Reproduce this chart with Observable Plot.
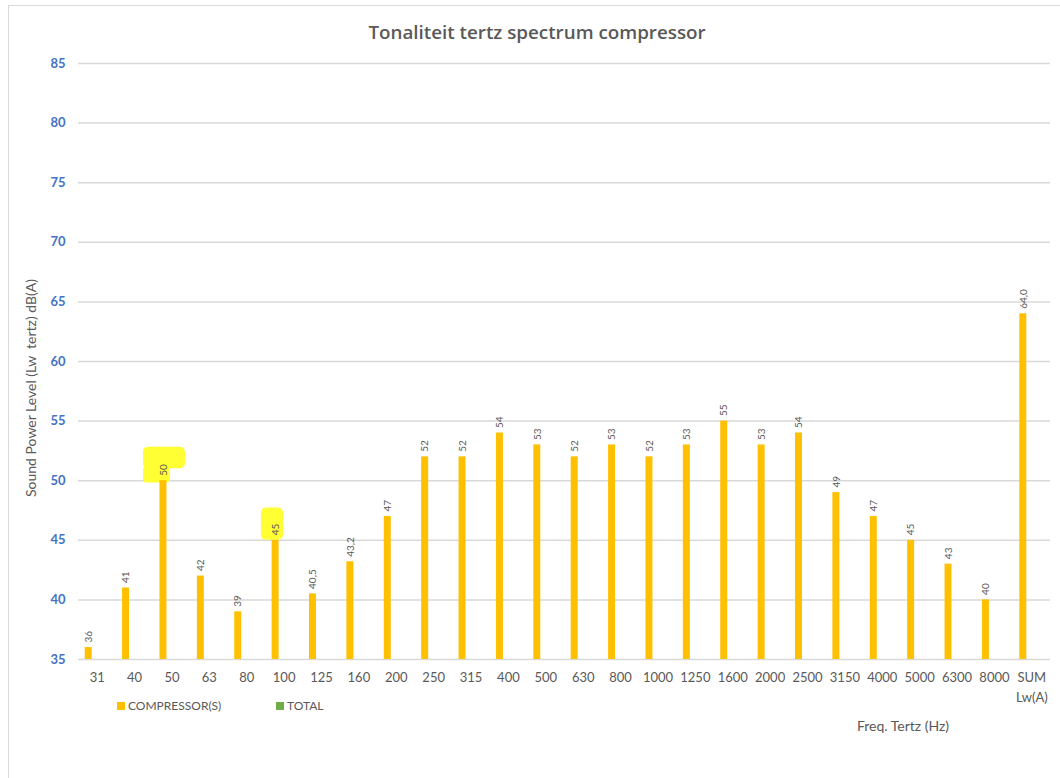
<!DOCTYPE html>
<html>
<head>
<meta charset="utf-8">
<script src="https://cdn.jsdelivr.net/npm/d3@7"></script>
<script src="https://cdn.jsdelivr.net/npm/@observablehq/plot@0.6"></script>
<style>
  html, body { margin: 0; padding: 0; background: #fff; }
  #wrap { position: relative; width: 1060px; height: 778px; font-family: Lato, "Open Sans", sans-serif; color: #595959; overflow: hidden; }
  #wrap svg { position: absolute; left: 0; top: 0; }
  .abs { position: absolute; white-space: nowrap; }
  #border { position: absolute; left: 8px; top: 5px; right: -2px; bottom: -2px; border-top: 1.5px solid #d9d9d9; border-left: 1.5px solid #d9d9d9; }
  #title { left: 0; width: 1074px; top: 19px; text-align: center; font-family: "Open Sans", sans-serif; font-size: 18.8px; font-weight: 600; color: #595959; }
  #ylabel { left: 30px; top: 388px; transform: translate(-50%, -50%) rotate(-90deg); font-size: 14px; }
  #xlabel { left: 903px; top: 725px; transform: translate(-50%, -50%); font-size: 14px; }
  .leg { top: 698px; font-size: 12px; display: flex; align-items: center; }
  .sw { width: 8px; height: 8px; margin-right: 3px; display: inline-block; }
</style>
</head>
<body>
<div id="wrap">
  <div id="border"></div>
  <div id="chart"></div>
  <div class="abs" id="title">Tonaliteit tertz spectrum compressor</div>
  <div class="abs" id="ylabel">Sound Power Level (Lw&nbsp;&nbsp;tertz) dB(A)</div>
  <div class="abs" id="xlabel">Freq. Tertz (Hz)</div>
  <div class="abs leg" style="left:117px"><span class="sw" style="background:#FFC000"></span>COMPRESSOR(S)</div>
  <div class="abs leg" style="left:276px"><span class="sw" style="background:#70AD47"></span>TOTAL</div>
</div>
<script>
// ---- data ----
const freqs = ["31","40","50","63","80","100","125","160","200","250","315","400","500","630","800","1000","1250","1600","2000","2500","3150","4000","5000","6300","8000","SUM Lw(A)"];
const compressor = [36,41,50,42,39,45,40.5,43.2,47,52,52,54,53,52,53,52,53,55,53,54,49,47,45,43,40,64.0];
const valueLabels = ["36","41","50","42","39","45","40,5","43,2","47","52","52","54","53","52","53","52","53","55","53","54","49","47","45","43","40","64,0"];
const yTicks = [35,40,45,50,55,60,65,70,75,80,85];
const yBase = 35;
// yellow highlight marks (category, low value, high value)
const hlTopFreq = ["50"];  const hlTopLow = [51.0];  const hlTopHigh = [52.8];
const hlLowFreq = ["50"];  const hlLowLow = [49.8];  const hlLowHigh = [51.2];
const hl2Freq = ["100"];   const hl2Low = [45.0];    const hl2High = [47.7];

const data = freqs.map((f, i) => ({freq: f, value: compressor[i], label: valueLabels[i]}));
const hlA = hlTopFreq.map((f, i) => ({freq: f, lo: hlTopLow[i], hi: hlTopHigh[i]}));
const hlB = hlLowFreq.map((f, i) => ({freq: f, lo: hlLowLow[i], hi: hlLowHigh[i]}));
const hlC = hl2Freq.map((f, i) => ({freq: f, lo: hl2Low[i], hi: hl2High[i]}));

const chart = Plot.plot({
  width: 1060,
  height: 778,
  marginTop: 63,
  marginBottom: 119,
  marginLeft: 78,
  marginRight: 10,
  style: {fontFamily: "Lato, 'Open Sans', sans-serif", background: "transparent"},
  x: {type: "band", domain: freqs, padding: 0, round: false},
  y: {domain: [35, 85]},
  marks: [
    Plot.gridY(yTicks, {stroke: "#d9d9d9", strokeOpacity: 1, strokeWidth: 1.5}),
    Plot.axisY(yTicks, {tickSize: 0, tickPadding: 13, fill: "#4472C4", fontWeight: "bold", fontSize: 13, label: null}),
    Plot.axisX({tickSize: 0, tickPadding: 9, fontSize: 13, fill: "#595959", label: null, lineHeight: 1.5,
      tickFormat: d => d.replace(" ", "\n")}),
    Plot.barY(hlA, {x: "freq", y1: "lo", y2: "hi", fill: "#FFFF33", insetLeft: -9.8, insetRight: 5.2, rx: 5}),
    Plot.barY(hlB, {x: "freq", y1: "lo", y2: "hi", fill: "#FFFF33", insetLeft: -9.8, insetRight: 20.2, rx: 4}),
    Plot.barY(hlC, {x: "freq", y1: "lo", y2: "hi", fill: "#FFFF33", insetLeft: -4, insetRight: 19.3, rx: 5}),
    Plot.barY(data, {x: "freq", y1: yBase, y2: "value", fill: "#FFC000", insetLeft: 15.2, insetRight: 15.2, dx: -8.5}),
    Plot.text(data, {x: "freq", y: "value", text: "label", rotate: -90, textAnchor: "start", dy: -5, dx: -8.5, fontSize: 10, fill: "#595959"})
  ]
});
document.getElementById("chart").appendChild(chart);
</script>
</body>
</html>
